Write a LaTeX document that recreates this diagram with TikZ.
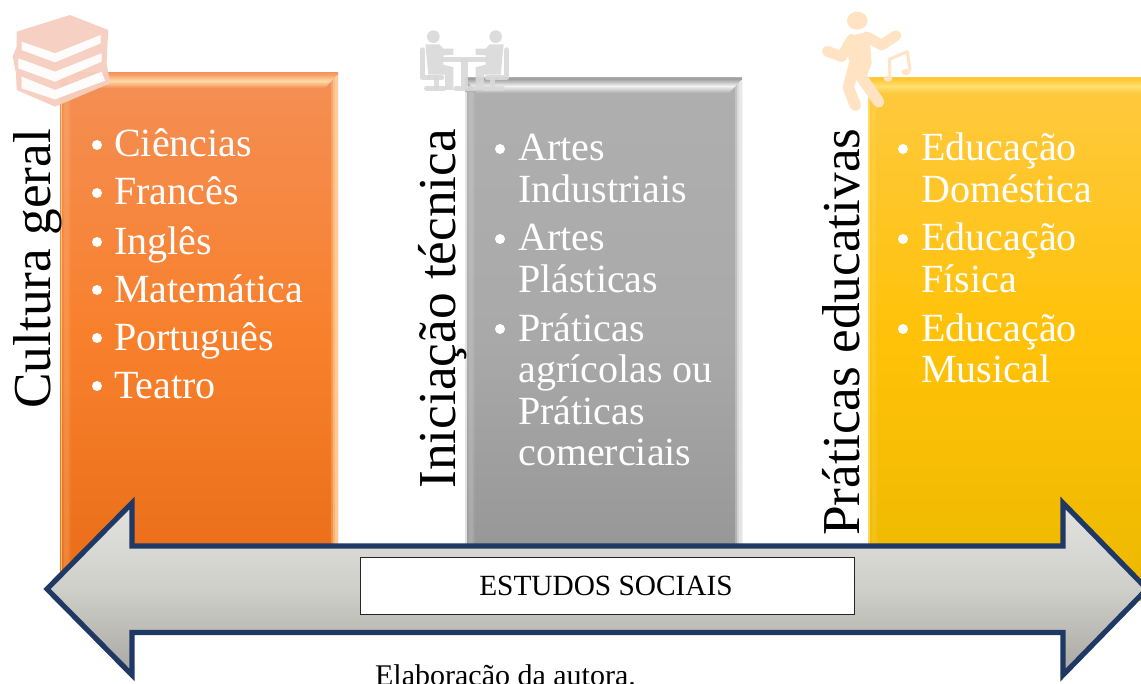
\documentclass[tikz,border=0pt]{standalone}
\usepackage{fontspec}
\setmainfont{Liberation Serif}
\definecolor{ortop}{HTML}{F48F55}\definecolor{ormid}{HTML}{F8802C}\definecolor{orbot}{HTML}{E96C18}\definecolor{orhi}{HTML}{FFD9A6}\definecolor{oredge}{HTML}{F59A63}
\definecolor{grtop}{HTML}{AFAFAF}\definecolor{grmid}{HTML}{A9A9A9}\definecolor{grbot}{HTML}{939393}\definecolor{grhi}{HTML}{F2F2F2}\definecolor{gredge}{HTML}{A0A0A0}
\definecolor{yetop}{HTML}{FFC940}\definecolor{yemid}{HTML}{FFC208}\definecolor{yebot}{HTML}{ECB900}\definecolor{yehi}{HTML}{FFE070}\definecolor{yeedge}{HTML}{FFC733}
\newcommand{\boxbevel}[9]{%
  % #1 x0 #2 y0 #3 x1 #4 y1 #5 top #6 mid #7 bottom #8 highlight #9 edge
  \shade[top color=#5,bottom color=#7,middle color=#6] (#1,#2) rectangle (#3,#4);
  % left side: pale edge, soft brighter band
  \fill[#8,opacity=.8] (#1,#2) rectangle (#1+1.5,#4);
  \fill[#8,opacity=.08] (#1+2,#2) rectangle (#1+10,#4);
  \fill[#8,opacity=.14] (#1+3.5,#2) rectangle (#1+8,#4);
  % right side: pale stripes
  \fill[#8,opacity=.3] (#3-7,#2) rectangle (#3-5,#4);
  \fill[#8,opacity=.65] (#3-5,#2) rectangle (#3-3,#4);
  \fill[#8,opacity=.85] (#3-3,#2) rectangle (#3,#4);
  % top bevel
  \fill[#5] (#1,#2+14) -- (#1+12,#2+14) -- (#1,#2+2) -- cycle;
  \shade[top color=#9,bottom color=#5,middle color=#8] (#1,#2+1) -- (#3,#2+1) -- (#3-13,#2+15) -- (#1+12,#2+15) -- cycle;
  \fill[#9] (#1,#2) rectangle (#3,#2+2);
}
\tikzset{
  listitem/.style={text=white,anchor=base west,inner sep=0pt,font=\fontsize{30}{30}\selectfont},
  bulletmark/.style={text=white,anchor=center,inner sep=0pt,circle,fill=white,minimum size=7.5pt},
  sidelabel/.style={text=black,anchor=base west,inner sep=0pt,rotate=90,font=\fontsize{40}{40}\selectfont},
  caption/.style={text=black,anchor=base,inner sep=0pt,font=\fontsize{22}{24}\selectfont},
  bandarrow/.style={draw=arrowblue,line width=3.9pt,miter limit=10,top color=arrowtop,bottom color=arrowbot,middle color=arrowmid},
  iconline/.style={line width=#1,line cap=round,line join=round}
}
\definecolor{arrowblue}{HTML}{203864}
\definecolor{arrowtop}{HTML}{E2E2E0}
\definecolor{arrowmid}{HTML}{CFCFCA}
\definecolor{arrowbot}{HTML}{A8A7A1}
\definecolor{bookc}{HTML}{F6CFC0}
\definecolor{peoplec}{HTML}{D9D9D9}
\definecolor{dancec}{HTML}{FFE3C2}
\begin{document}
\begin{tikzpicture}[x=.75pt,y=-.75pt]
\useasboundingbox (0,0) rectangle (1141,684);
\clip (0,0) rectangle (1141,684);
\fill[white] (0,0) rectangle (1141,684);

% columns
\boxbevel{60.5}{73}{338}{600}{ortop}{ormid}{orbot}{orhi}{oredge}
\boxbevel{465}{78}{742}{600}{grtop}{grmid}{grbot}{grhi}{gredge}
\boxbevel{868}{78}{1154}{600}{yetop}{yemid}{yebot}{yehi}{yeedge}

% books icon
\begin{scope}[scale=1/3]
\fill[bookc,opacity=.95] (50,95) -- (210,45) -- (325,90) -- (322,140) -- (320,190) -- (330,250) -- (165,320) -- (50,270) -- (48,220) -- (38,170) -- (50,140) -- cycle;
\fill[white,opacity=.95] (65,125) -- (165,160) -- (302,105) -- (302,130) -- (165,187) -- (65,150) -- cycle;
\fill[white,opacity=.95] (55,175) -- (165,215) -- (305,160) -- (305,185) -- (165,245) -- (55,205) -- cycle;
\fill[white,opacity=.95] (65,230) -- (165,270) -- (305,215) -- (315,242) -- (165,298) -- (65,265) -- cycle;
\end{scope}

% people icon
\begin{scope}[shift={(400,0)},scale=1/3]
\begin{scope}[peoplec,opacity=.9]
\foreach \m in {1,-1}{
\begin{scope}[shift={(193.5,0)},xscale=\m,shift={(-193.5,0)}]
\fill (100,110) circle (19);
\fill (76,133) -- (118,133) -- (130,146) -- (160,146) -- (160,164) -- (130,166) -- (130,194) -- (160,202) -- (160,270) -- (135,270) -- (135,224) -- (85,224) -- cycle;
\draw[iconline=4pt] (67,150) -- (67,232) -- (85,232);
\draw[iconline=4pt] (88,232) -- (125,232);
\draw[iconline=4pt] (110,232) -- (110,265);
\draw[iconline=4pt] (80,265) -- (132,265);
\end{scope}}
\draw[iconline=4pt] (132,178) -- (255,178);
\fill (183,178) rectangle (204,268);
\draw[iconline=4pt] (168,266) -- (222,266);
\end{scope}
\end{scope}

% dancer icon
\begin{scope}[shift={(800,0)},scale=1/3]
\begin{scope}[dancec]
\fill (172,62) ellipse (31 and 27);
\fill (145,108) -- (207,96) -- (215,190) -- (170,215) -- (145,175) -- cycle;
\draw[iconline=8pt] (200,110) -- (245,135) -- (288,107);
\draw[iconline=8pt] (155,118) -- (125,170) -- (82,154);
\draw[iconline=8.5pt] (197,190) -- (182,228) -- (236,306);
\draw[iconline=8.5pt] (167,180) -- (145,262) -- (166,316);
\draw[line width=2.2pt,line join=round] (270,232) -- (268,178) -- (322,155) -- (330,212);
\fill (264,236) ellipse (13 and 9);
\fill (318,216) ellipse (13 and 9);
\end{scope}
\end{scope}

% list 1
\foreach \n/\t/\y in {a/Ciências/157,b/Francês/205,c/Inglês/254,d/Matemática/302,e/Português/350,f/Teatro/398}{
  \node[bulletmark] (bul1\n) at (97,\y-12) {};
  \node[listitem] (one\n) at (114,\y) {\t};
}
% list 2
\node[bulletmark] (bul2a) at (500,149) {};
\node[listitem] (twoa) at (518,161) {Artes};
\node[listitem] (twob) at (518,202.5) {Industriais};
\node[bulletmark] (bul2b) at (500,239) {};
\node[listitem] (twoc) at (518,251) {Artes};
\node[listitem] (twod) at (518,292.5) {Plásticas};
\node[bulletmark] (bul2c) at (500,329) {};
\node[listitem] (twoe) at (518,341) {Práticas};
\node[listitem] (twof) at (518,382.5) {agrícolas ou};
\node[listitem] (twog) at (518,424) {Práticas};
\node[listitem] (twoh) at (518,465.5) {comerciais};
% list 3
\node[bulletmark] (bul3a) at (903,149) {};
\node[listitem] (threea) at (921,161) {Educação};
\node[listitem] (threeb) at (921,202.5) {Doméstica};
\node[bulletmark] (bul3b) at (903,239) {};
\node[listitem] (threec) at (921,251) {Educação};
\node[listitem] (threed) at (921,292.5) {Física};
\node[bulletmark] (bul3c) at (903,329) {};
\node[listitem] (threee) at (921,341) {Educação};
\node[listitem] (threef) at (921,382.5) {Musical};

% side labels
\node[sidelabel] (cultura) at (50,409) {Cultura geral};
\node[sidelabel] (iniciacao) at (455,489) {Iniciação técnica};
\node[sidelabel] (praticas) at (859,536) {Práticas educativas};

% arrow
\path[bandarrow] (47,589) -- (132,503) -- (132,546) -- (1063,546) -- (1063,503) -- (1147,589) -- (1063,675) -- (1063,632.5) -- (132,632.5) -- (132,675) -- cycle;

% band label
\node[draw=black!85,fill=white,line width=.7pt,minimum width=370.5pt,minimum height=42.75pt,inner sep=0pt] (bandbox) at (607,585.5) {};
\node[caption] (estudos) at (606,595) {ESTUDOS SOCIAIS};
\node[caption,font=\fontsize{22.5}{24}\selectfont] (elab) at (505.5,685.5) {Elaboração da autora.};
\end{tikzpicture}
\end{document}
